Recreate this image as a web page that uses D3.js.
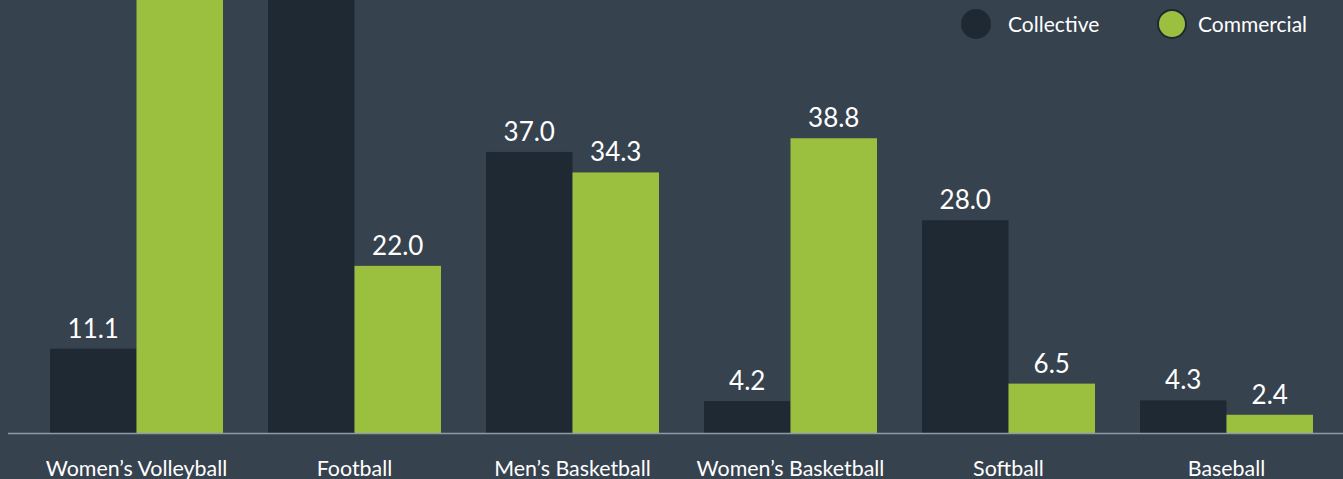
<!DOCTYPE html>
<html>
<head>
<meta charset="utf-8">
<script src="https://cdn.jsdelivr.net/npm/d3@7"></script>
<style>
  html, body { margin: 0; padding: 0; background: #37424f; overflow: hidden; }
  svg { display: block; font-family: Lato, "Open Sans", sans-serif; }
</style>
</head>
<body>
<svg width="1343" height="479"></svg>
<script>
const sports = ["Women’s Volleyball", "Football", "Men’s Basketball", "Women’s Basketball", "Softball", "Baseball"];
const series = ["Collective", "Commercial"];
// Volleyball commercial and Football collective run off the top of the picture; values estimated
const collective = [11.1, 63.0, 37.0, 4.2, 28.0, 4.3];
const commercial = [64.0, 22.0, 34.3, 38.8, 6.5, 2.4];

const svg = d3.select('svg');
const width = +svg.attr('width');

const colors = { Collective: '#1f2933', Commercial: '#9bc03f' };
const baseline = 433;
const yMax = 57;

const x0 = d3.scaleBand()
  .domain(sports)
  .range([50, 1313])
  .paddingInner(45 / 218)
  .paddingOuter(0);

const x1 = d3.scaleBand()
  .domain(series)
  .range([0, x0.bandwidth()]);

const y = d3.scaleLinear()
  .domain([0, yMax])
  .range([baseline, 0]);

const rows = sports.map((s, i) => ({
  sport: s,
  values: [
    { key: 'Collective', value: collective[i] },
    { key: 'Commercial', value: commercial[i] }
  ]
}));

const groups = svg.selectAll('.group')
  .data(rows)
  .enter().append('g')
    .attr('class', 'group')
    .attr('transform', d => `translate(${x0(d.sport)},0)`);

groups.selectAll('rect')
  .data(d => d.values)
  .enter().append('rect')
    .attr('x', d => x1(d.key))
    .attr('y', d => y(d.value))
    .attr('width', x1.bandwidth())
    .attr('height', d => baseline - y(d.value))
    .attr('fill', d => colors[d.key]);

// labels of bars that run past the top are out of view, so skip them
groups.selectAll('.val')
  .data(d => d.values.filter(v => v.value < yMax))
  .enter().append('text')
    .attr('class', 'val')
    .attr('x', d => x1(d.key) + x1.bandwidth() / 2)
    .attr('y', d => y(d.value) - 11)
    .attr('text-anchor', 'middle')
    .attr('fill', '#ffffff')
    .style('font-size', '26px')
    .text(d => d.value.toFixed(1));

// baseline axis
svg.append('line')
  .attr('x1', 8).attr('x2', width)
  .attr('y1', baseline + 0.5).attr('y2', baseline + 0.5)
  .attr('stroke', '#8d9aa8')
  .attr('stroke-width', 1.5);

const xAxis = d3.axisBottom(x0).tickSize(0).tickPadding(0);
const xAxisG = svg.append('g')
  .attr('transform', `translate(0, ${baseline})`)
  .call(xAxis);
xAxisG.select('.domain').remove();
xAxisG.selectAll('text')
  .attr('y', 43)
  .attr('dy', 0)
  .attr('fill', '#ffffff')
  .style('font-size', '21.4px')
  .style('font-family', 'Lato, "Open Sans", sans-serif');

// legend
const legendX = [976, 1172];
const legendTextX = [32, 26];
const legend = svg.selectAll('.legend')
  .data(series)
  .enter().append('g')
    .attr('class', 'legend')
    .attr('transform', (d, i) => `translate(${legendX[i]}, 24)`);

legend.append('circle')
  .attr('r', d => d === 'Commercial' ? 14 : 15)
  .attr('fill', d => colors[d])
  .attr('stroke', d => d === 'Commercial' ? '#1f2933' : 'none')
  .attr('stroke-width', 2);

legend.append('text')
  .attr('x', (d, i) => legendTextX[i])
  .attr('y', 8)
  .attr('fill', '#ffffff')
  .style('font-size', '21px')
  .text(d => d);
</script>
</body>
</html>
